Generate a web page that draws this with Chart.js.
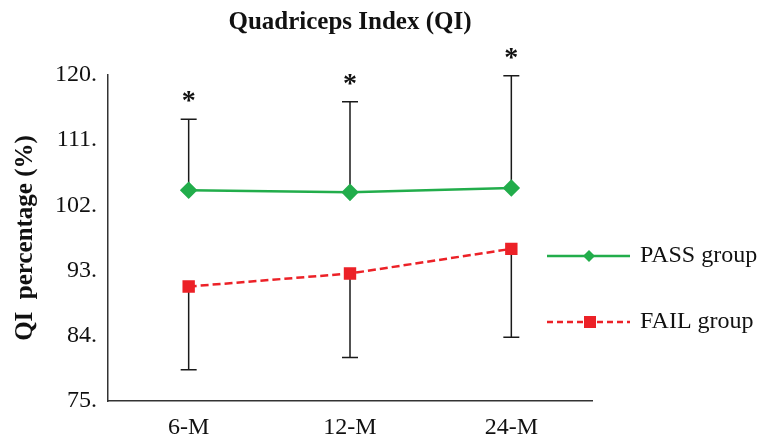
<!DOCTYPE html>
<html>
<head>
<meta charset="utf-8">
<script src="https://cdn.jsdelivr.net/npm/chart.js@4.4.0/dist/chart.umd.min.js"></script>
<style>
  body { margin: 0; background: #fff; }
  #wrap { width: 771px; height: 445px; }
</style>
</head>
<body>
<div id="wrap"><canvas id="qiChart" width="771" height="445"></canvas></div>
<script>
const labels = ['6-M', '12-M', '24-M'];
const passMean = [104.1, 103.8, 104.4];
const passUpper = [113.9, 116.3, 119.9];
const failMean = [90.8, 92.6, 96.0];
const failLower = [79.3, 81.0, 83.8];
const yTicks = [75, 84, 93, 102, 111, 120];

const serif = "'Liberation Serif', 'Times New Roman', serif";
const green = '#22ad4b';
const red = '#ec2127';

// error bars + asterisks drawn from the scales
const errorBars = {
    id: 'errorBars',
    beforeDatasetsDraw(chart) {
        const ctx = chart.ctx;
        const x = chart.scales.x;
        const y = chart.scales.y;
        ctx.save();
        ctx.strokeStyle = '#1a1a1a';
        ctx.lineWidth = 1.5;
        labels.forEach((lab, i) => {
            const px = x.getPixelForValue(i);
            const pairs = [[passMean[i], passUpper[i]], [failMean[i], failLower[i]]];
            pairs.forEach(p => {
                const y0 = y.getPixelForValue(p[0]);
                const y1 = y.getPixelForValue(p[1]);
                ctx.beginPath();
                ctx.moveTo(px, y0);
                ctx.lineTo(px, y1);
                ctx.moveTo(px - 8, y1);
                ctx.lineTo(px + 8, y1);
                ctx.stroke();
            });
            ctx.fillStyle = '#111';
            ctx.font = 'bold 28px ' + serif;
            ctx.textAlign = 'center';
            ctx.textBaseline = 'middle';
            ctx.fillText('*', px, y.getPixelForValue(passUpper[i]) - 17);
        });
        ctx.restore();
    }
};

// legend on the right: line with marker in the middle
const sideLegend = {
    id: 'sideLegend',
    afterDraw(chart) {
        const ctx = chart.ctx;
        const items = [
            { ds: chart.data.datasets[0], y: 256, dash: [] },
            { ds: chart.data.datasets[1], y: 322, dash: [6, 4] }
        ];
        ctx.save();
        items.forEach(it => {
            const ds = it.ds;
            ctx.strokeStyle = ds.borderColor;
            ctx.lineWidth = 2.5;
            ctx.setLineDash(it.dash);
            ctx.beginPath();
            ctx.moveTo(547, it.y);
            ctx.lineTo(630, it.y);
            ctx.stroke();
            ctx.setLineDash([]);
            ctx.fillStyle = ds.pointBackgroundColor;
            ctx.beginPath();
            if (ds.pointStyle === 'rectRot') {
                ctx.moveTo(589, it.y - 6);
                ctx.lineTo(595, it.y);
                ctx.lineTo(589, it.y + 6);
                ctx.lineTo(583, it.y);
                ctx.closePath();
            } else {
                ctx.rect(584, it.y - 6, 12, 12);
            }
            ctx.fill();
            ctx.fillStyle = '#111';
            ctx.font = '24px ' + serif;
            ctx.textAlign = 'left';
            ctx.textBaseline = 'middle';
            ctx.fillText(ds.label, 640, it.y);
        });
        ctx.restore();
    }
};

new Chart(document.getElementById('qiChart'), {
    type: 'line',
    data: {
        labels: labels,
        datasets: [
            {
                label: 'PASS group',
                data: passMean,
                borderColor: green,
                backgroundColor: green,
                pointBackgroundColor: green,
                pointBorderColor: green,
                borderWidth: 2.5,
                pointStyle: 'rectRot',
                pointRadius: 7,
                tension: 0
            },
            {
                label: 'FAIL group',
                data: failMean,
                borderColor: red,
                backgroundColor: red,
                pointBackgroundColor: red,
                pointBorderColor: red,
                borderWidth: 2.5,
                borderDash: [8, 4],
                pointStyle: 'rect',
                pointRadius: 7,
                tension: 0
            }
        ]
    },
    options: {
        responsive: false,
        animation: false,
        layout: { padding: { left: 0, right: 179, top: 0, bottom: 0 } },
        plugins: {
            legend: { display: false },
            tooltip: { enabled: false },
            title: {
                display: true,
                fullSize: false,
                text: 'Quadriceps Index (QI)',
                color: '#111',
                font: { family: serif, size: 25, weight: 'bold', lineHeight: 1.2 },
                padding: { top: 8, bottom: 37 }
            }
        },
        scales: {
            x: {
                offset: true,
                grid: { display: false, drawTicks: false },
                border: { display: true, color: '#333', width: 1.5 },
                ticks: { color: '#111', font: { family: serif, size: 24 }, padding: 12 },
                afterFit(scale) { scale.height = 44; }
            },
            y: {
                min: 75,
                max: 120,
                afterBuildTicks(scale) { scale.ticks = yTicks.map(v => ({ value: v })); },
                grid: { display: false, drawTicks: false },
                border: { display: true, color: '#333', width: 1.5 },
                ticks: {
                    color: '#111',
                    font: { family: serif, size: 24 },
                    padding: 11,
                    callback: v => v + '.'
                },
                title: {
                    display: true,
                    text: 'QI  percentage (%)',
                    color: '#111',
                    font: { family: serif, size: 25, weight: 'bold', lineHeight: 1.2 },
                    padding: { top: 11, bottom: 0 }
                },
                afterFit(scale) { scale.width = 108; }
            }
        }
    },
    plugins: [errorBars, sideLegend]
});
</script>
</body>
</html>
